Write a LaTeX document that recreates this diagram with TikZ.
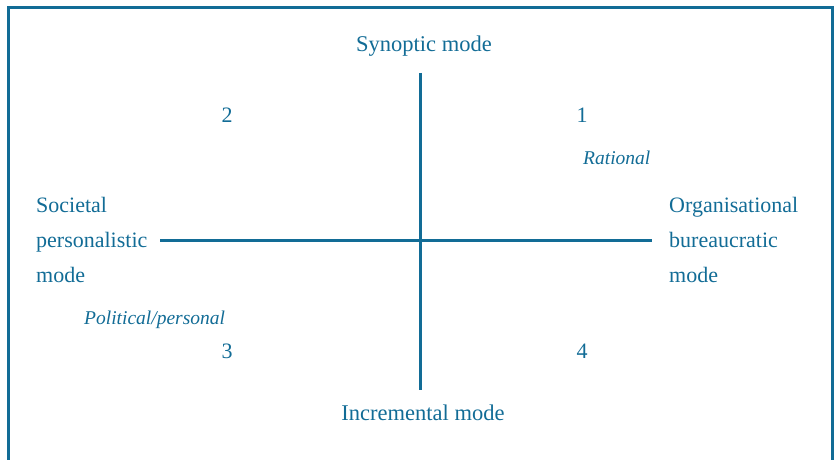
\documentclass[tikz,border=0pt]{standalone}
\usepackage{fontspec}
\setmainfont{Liberation Serif}
\usepackage{tikz}
\usetikzlibrary{positioning}
\definecolor{primary}{RGB}{18,108,150}

\begin{document}
\begin{tikzpicture}[
  x=1pt, y=-1pt,
  axis/.style={draw=primary, line width=3pt},
  frame/.style={draw=primary, line width=3pt},
  label/.style={text=primary, font=\fontsize{22.5}{35}\selectfont, inner sep=0pt},
  side/.style={text=primary, font=\fontsize{22}{35}\selectfont, inner sep=0pt, align=left, anchor=west},
  quad/.style={text=primary, font=\fontsize{22}{25}\selectfont, inner sep=0pt},
  mode/.style={text=primary, font=\fontsize{19.5}{24}\selectfont\itshape, inner sep=0pt}
]
\useasboundingbox (0,0) rectangle (839,460);

% open frame
\coordinate (fbl) at (8,462);
\coordinate (ftl) at (8,8);
\coordinate (ftr) at (832,8);
\coordinate (fbr) at (832,462);
\draw[frame] (fbl) -- (ftl) -- (ftr) -- (fbr);

% axes
\coordinate (top)    at (420.5,73);
\coordinate (bottom) at (420.5,390);
\coordinate (left)   at (160,240);
\coordinate (right)  at (652,240);
\draw[axis] (top) -- (bottom);
\draw[axis] (left) -- (right);

% poles
\node[label] (synoptic)    at (424,46)  {Synoptic mode};
\node[label] (incremental) at (423,413) {Incremental mode};
\node[side]  (societal)    at (36,240)  {Societal\\personalistic\\mode};
\node[side]  (organ)       at (669,240) {Organisational\\bureaucratic\\mode};

% quadrants
\node[quad] (q1) at (582,115) {1};
\node[quad] (q2) at (227,115) {2};
\node[quad] (q3) at (227,351) {3};
\node[quad] (q4) at (582,351) {4};

\node[mode, anchor=west] (rational)  at (583,158) {Rational};
\node[mode, anchor=west] (political) at (84,320)  {Political/personal};

\end{tikzpicture}
\end{document}
